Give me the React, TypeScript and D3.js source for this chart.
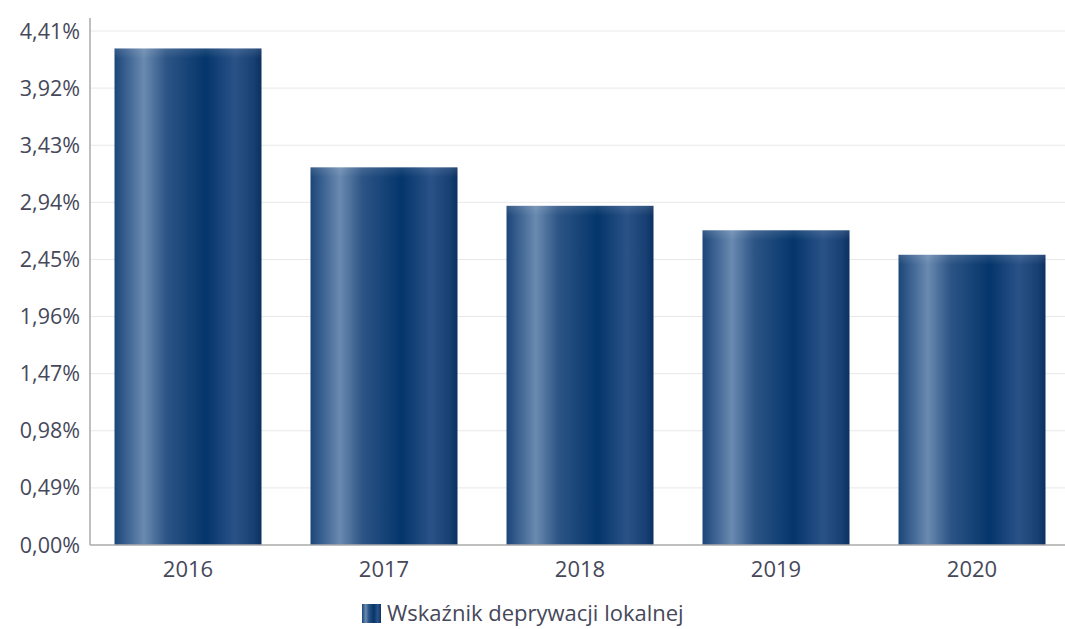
import React from "react";
import * as d3 from "d3";

const categories = ["2016", "2017", "2018", "2019", "2020"];
const values = [4.26, 3.24, 2.91, 2.70, 2.49];
const tickValues = [0, 0.49, 0.98, 1.47, 1.96, 2.45, 2.94, 3.43, 3.92, 4.41];
const seriesName = "Wskaźnik deprywacji lokalnej";

const W = 1065;
const H = 629;
const left = 90;
const top = 31;
const bottom = 545;
const right = 1070;

export default function App() {
  const x = d3.scaleBand<string>().domain(categories).range([left, right]).paddingInner(0.25).paddingOuter(0.125);
  const y = d3.scaleLinear().domain([0, 4.41]).range([bottom, top]);
  const fmt = (v: number) => v.toFixed(2).replace(".", ",") + "%";
  const font = "'Open Sans', 'DejaVu Sans', sans-serif";
  const textColor = "#46485a";

  return (
    <svg width={W} height={H} style={{ position: "absolute", left: 0, top: 0, background: "#fff" }}>
      <defs>
        <linearGradient id="barGrad" x1="0" x2="1" y1="0" y2="0">
          <stop offset="0%" stopColor="#1b4678" />
          <stop offset="8%" stopColor="#3a6190" />
          <stop offset="20%" stopColor="#6a8ab0" />
          <stop offset="35%" stopColor="#2d5586" />
          <stop offset="62%" stopColor="#04356b" />
          <stop offset="82%" stopColor="#2a5287" />
          <stop offset="95%" stopColor="#173f72" />
          <stop offset="100%" stopColor="#0b2f60" />
        </linearGradient>
        <linearGradient id="topGrad" x1="0" x2="0" y1="0" y2="1">
          <stop offset="0%" stopColor="#ffffff" stopOpacity={0.12} />
          <stop offset="100%" stopColor="#ffffff" stopOpacity={0} />
        </linearGradient>
      </defs>
      {tickValues.map((t) => (
        <g key={t}>
          {t > 0 && (
            <line x1={left} x2={W} y1={y(t)} y2={y(t)} stroke="#e8e8e8" strokeWidth={1} />
          )}
          <text x={80} y={y(t)} dy="0.35em" textAnchor="end" fontFamily={font} fontSize={21.5} fill={textColor}>
            {fmt(t)}
          </text>
        </g>
      ))}
      {categories.map((c, i) => (
        <g key={c}>
          <rect x={x(c)} y={y(values[i])} width={x.bandwidth()} height={bottom - y(values[i])} fill="url(#barGrad)" />
          <rect x={x(c)} y={y(values[i])} width={x.bandwidth()} height={10} fill="url(#topGrad)" />
          <text x={(x(c) as number) + x.bandwidth() / 2} y={577} textAnchor="middle" fontFamily={font} fontSize={22} fill={textColor}>
            {c}
          </text>
        </g>
      ))}
      <line x1={left} x2={left} y1={18} y2={bottom} stroke="#aaa" strokeWidth={1.5} />
      <line x1={left} x2={W} y1={bottom} y2={bottom} stroke="#aaa" strokeWidth={1.5} />
      <rect x={362} y={604} width={19} height={19} fill="url(#barGrad)" />
      <text x={387} y={621} fontFamily={font} fontSize={22} fill={textColor}>
        {seriesName}
      </text>
    </svg>
  );
}
